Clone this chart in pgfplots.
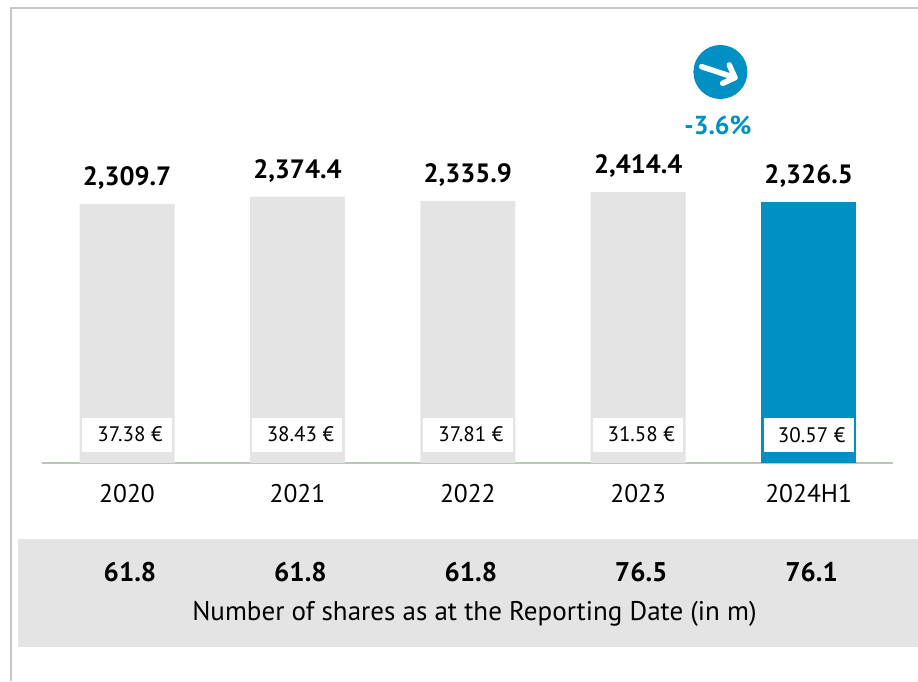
\documentclass[border=0pt]{standalone}
\usepackage{fontspec}
\setmainfont{PT Sans}
\usepackage{pgfplots}
\usepackage{pgfplotstable}
\pgfplotsset{compat=1.18}
\definecolor{barblue}{HTML}{0090C4}
\definecolor{bargray}{HTML}{E4E4E4}
\definecolor{axisgray}{HTML}{BCC4BC}
\definecolor{framegray}{HTML}{C4C8C4}

\pgfplotstableread{
x value label
0 2309.7 2,309.7
1 2374.4 2,374.4
2 2335.9 2,335.9
3 2414.4 2,414.4
}\graybars
\pgfplotstableread{
x value label
4 2326.5 2,326.5
}\bluebars
% price per share, y only sets where the white box sits
\pgfplotstableread{
x y label
0 254 37.38~€
1 254 38.43~€
2 254 37.81~€
3 254 31.58~€
4 249 30.57~€
}\prices
% shares row sits below the baseline, in the grey band
\pgfplotstableread{
x y label
0 -971 61.8
1 -971 61.8
2 -971 61.8
3 -971 76.5
4 -971 76.1
}\shares

\begin{document}
\begin{tikzpicture}[x=1pt,y=1pt]
\useasboundingbox (0,0) rectangle (918,681);
\begin{scope}[y=-1pt,shift={(0pt,681pt)}]
  \fill[bargray] (18,539) rectangle (918,647);
  \draw[framegray,line width=2pt] (11,681) -- (11,8) -- (918,8);
  \node[font=\fontsize{27}{30}\selectfont] at (474.5,614) {Number of shares as at the Reporting Date (in m)};
\end{scope}
\begin{axis}[
  at={(42pt,218pt)}, anchor=south west,
  scale only axis, width=851pt, height=455pt,
  xmin=-0.4988, xmax=4.495, ymin=0, ymax=4055,
  axis x line=bottom, axis y line=none,
  axis line style={axisgray,line width=1.6pt,-},
  xtick={0,1,2,3,4},
  xticklabels={2020,2021,2022,2023,2024H1},
  tick style={draw=none},
  tick label style={font=\fontsize{25.5}{28}\selectfont},
  xticklabel style={yshift=-16pt},
  clip=false,
]
\addplot[ybar,bar width=95pt,bar shift=0pt,fill=bargray,draw=none,
  point meta=explicit symbolic,nodes near coords,
  nodes near coords style={font=\fontsize{26.5}{28}\bfseries\selectfont,black,yshift=11pt}]
  table[x=x,y=value,meta=label] {\graybars};
\addplot[ybar,bar width=95pt,bar shift=0pt,fill=barblue,draw=none,
  point meta=explicit symbolic,nodes near coords,
  nodes near coords style={font=\fontsize{26.5}{28}\bfseries\selectfont,black,yshift=11pt}]
  table[x=x,y=value,meta=label] {\bluebars};
\addplot[draw=none,mark=none,point meta=explicit symbolic,
  nodes near coords={\hspace*{6pt}\pgfplotspointmeta},
  nodes near coords align={center},
  nodes near coords style={font=\fontsize{21}{24}\selectfont,black,fill=white,
    minimum width=90pt,minimum height=34pt,inner sep=0pt,anchor=center}]
  table[x=x,y=y,meta=label] {\prices};
\addplot[draw=none,mark=none,point meta=explicit symbolic,nodes near coords,
  nodes near coords align={center},
  nodes near coords style={font=\fontsize{27}{28}\bfseries\selectfont,black,anchor=center,xshift=3pt}]
  table[x=x,y=y,meta=label] {\shares};
\end{axis}
\begin{scope}[y=-1pt,shift={(0pt,681pt)}]
  \fill[barblue] (720.4,72) circle (27);
  \draw[white,line width=5.5pt,line cap=round,line join=round]
    (701.7,66.7) -- (735,77.7) (729.3,65) -- (735,77.7) -- (722.7,83.3);
  \node[font=\fontsize{26}{28}\bfseries\selectfont,barblue] at (718,125) {-3.6\%};
\end{scope}
\end{tikzpicture}
\end{document}
